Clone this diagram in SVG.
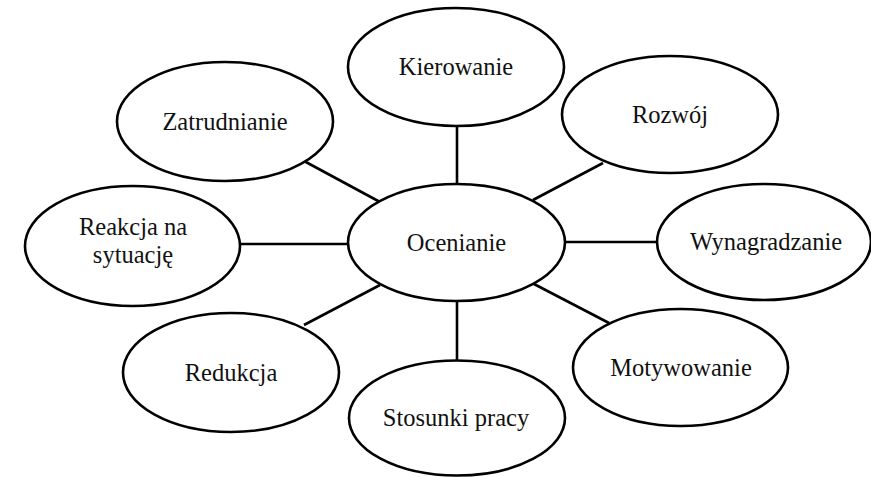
<svg xmlns="http://www.w3.org/2000/svg" width="871" height="477" viewBox="0 0 871 477">
<style>
.n ellipse{fill:#fff;stroke:#000;stroke-width:2.6}
.n text{font-family:"Liberation Serif","Times New Roman",serif;font-size:24.5px;fill:#111;text-anchor:middle}
#connectors line{stroke:#000;stroke-width:2.6}
</style>
<rect width="871" height="477" fill="#fff"/>
<g id="connectors">
<line x1="457" y1="126" x2="457" y2="184"/>
<line x1="304" y1="161" x2="380" y2="202"/>
<line x1="533" y1="200" x2="603" y2="163"/>
<line x1="240" y1="244" x2="348" y2="244"/>
<line x1="565" y1="242" x2="657" y2="242"/>
<line x1="380" y1="285" x2="304" y2="325"/>
<line x1="534" y1="284" x2="609" y2="323"/>
<line x1="457" y1="301" x2="457" y2="360"/>
</g>
<g id="ocenianie" class="n"><ellipse cx="456.5" cy="242.5" rx="108.5" ry="58.5"/><text x="456.5" y="250.5">Ocenianie</text></g>
<g id="kierowanie" class="n"><ellipse cx="456" cy="67" rx="108" ry="59"/><text x="456" y="75">Kierowanie</text></g>
<g id="zatrudnianie" class="n"><ellipse cx="225" cy="121.5" rx="108" ry="59.5"/><text x="225" y="129.5">Zatrudnianie</text></g>
<g id="rozwoj" class="n"><ellipse cx="670" cy="114.5" rx="108" ry="58.5"/><text x="670" y="123">Rozwój</text></g>
<g id="reakcja" class="n"><ellipse cx="132.5" cy="246" rx="107.5" ry="60"/><text x="133" y="235">Reakcja na</text><text x="133" y="263">sytuację</text></g>
<g id="wynagradzanie" class="n"><ellipse cx="764" cy="242" rx="107" ry="58"/><text x="766" y="250">Wynagradzanie</text></g>
<g id="redukcja" class="n"><ellipse cx="231" cy="372.5" rx="108" ry="59.5"/><text x="231" y="380.5">Redukcja</text></g>
<g id="motywowanie" class="n"><ellipse cx="680.5" cy="367.5" rx="107.5" ry="58.5"/><text x="681" y="375.5">Motywowanie</text></g>
<g id="stosunki" class="n"><ellipse cx="457" cy="418" rx="108" ry="57.5"/><text x="456" y="426">Stosunki pracy</text></g>
</svg>
